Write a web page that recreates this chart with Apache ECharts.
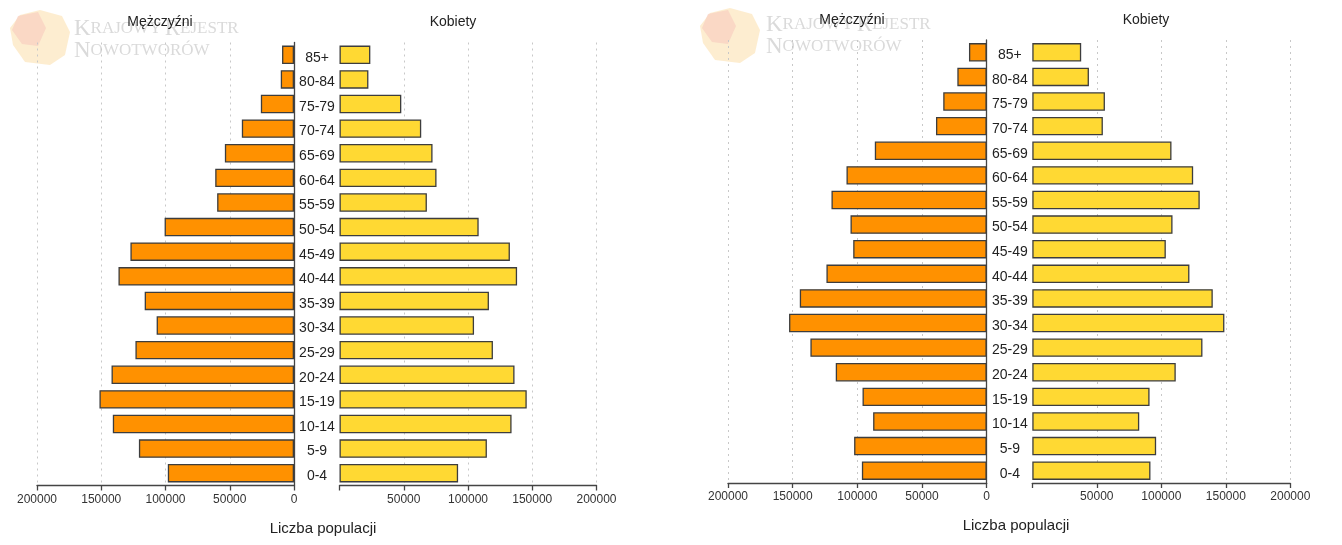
<!DOCTYPE html>
<html>
<head>
<meta charset="utf-8">
<script src="https://cdn.jsdelivr.net/npm/echarts@6/dist/echarts.min.js"></script>
<style>
html,body{margin:0;padding:0;background:#fff;}
#c{width:1342px;height:545px;}
</style>
</head>
<body>
<div id="c"></div>
<script>
// Age groups, bottom to top
const ageGroups = ['0-4','5-9','10-14','15-19','20-24','25-29','30-34','35-39','40-44','45-49','50-54','55-59','60-64','65-69','70-74','75-79','80-84','85+'];

// Chart A (left)
const menA   = [98200,120700,141000,151400,142000,123400,106900,116200,136600,127300,100700,59800,61300,53800,40600,25800,10300,9300];
const womenA = [92300,114700,133900,145700,136200,119400,104700,116300,138200,132600,108300,68000,75500,72400,63600,48100,22500,24000];

// Chart B (right)
const menB   = [96500,102500,87800,96000,116700,136300,152800,144500,123900,103200,105300,120000,108400,86500,39200,33600,22700,13700];
const womenB = [91600,96000,82900,90900,111200,131900,148900,139900,121800,103500,108700,129800,124700,107900,54700,56300,43900,37900];

const xTicks = [0,50000,100000,150000,200000];
const titleMen = 'Mężczyźni';
const titleWomen = 'Kobiety';
const xTitle = 'Liczba populacji';

const FONT = 'Liberation Sans, Arial, sans-serif';
const MEN_COLOR = '#FF9100';
const WOMEN_COLOR = '#FFD933';
const BORDER = '#3d3d3d';

const grids = [
  {left:37,    top:42.5, width:257, height:443},
  {left:339.5, top:42.5, width:257, height:443},
  {left:728,   top:40,   width:258.7, height:443},
  {left:1032.3,top:40,   width:258, height:443}
];

function xAxisFor(idx, isMen){
  return {
    gridIndex: idx, type:'value', min:xTicks[0], max:xTicks[xTicks.length-1], interval:50000,
    inverse: isMen,
    axisLine:{show:true, lineStyle:{color:'#444', width:1.3}},
    axisTick:{show:true, length:5, lineStyle:{color:'#444', width:1.3}},
    axisLabel:{color:'#333', fontSize:12, fontFamily:FONT, margin:8,
      formatter: v => (!isMen && v===0) ? '' : String(v)},
    splitLine:{show:true, showMinLine:false, lineStyle:{type:[2,4], color:'#c8c8c8', width:1}}
  };
}
function yAxisFor(idx, isMen){
  return {
    gridIndex: idx, type:'category', data: ageGroups,
    position: isMen ? 'right' : 'left',
    axisLine:{show: isMen, lineStyle:{color:'#444', width:1.3}},
    axisTick:{show:false},
    axisLabel: isMen ? {show:false} : {
      show:true, align:'center', margin:22.5,
      formatter: v => '{a|' + v + '}',
      rich:{a:{color:'#222', fontSize:14, fontFamily:FONT, padding:[6,0,0,0], align:'center'}}
    },
    splitLine:{show:false}
  };
}
function barSeries(idx, data, color){
  return {
    type:'bar', xAxisIndex:idx, yAxisIndex:idx, data:data,
    barCategoryGap:'25%', silent:true, animation:false,
    itemStyle:{color:color, borderColor:BORDER, borderWidth:1.3}
  };
}

function watermark(x, y){
  return {
    type:'text', left:x, top:y, silent:true,
    style:{
      text:'{b|K}{s|RAJOWY} {b|R}{s|EJESTR}\n{b|N}{s|OWOTWORÓW}',
      rich:{
        b:{fontSize:23, fontFamily:'Liberation Serif, serif', fill:'#dadada', lineHeight:22},
        s:{fontSize:17, fontFamily:'Liberation Serif, serif', fill:'#dadada', lineHeight:22}
      }
    }
  };
}
function logo(x, y){
  return {
    type:'group', left:x, top:y, silent:true,
    children:[
      {type:'polygon', shape:{points:[[10,5],[30,0],[52,6],[60,22],[55,45],[40,55],[15,52],[3,35],[0,18]]}, style:{fill:'#FDE8C4', opacity:0.8}},
      {type:'polygon', shape:{points:[[8,6],[28,2],[36,18],[28,36],[12,34],[2,20]]}, style:{fill:'#F8CFC0', opacity:0.7}}
    ]
  };
}

const chart = echarts.init(document.getElementById('c'), null, {renderer:'canvas'});
chart.setOption({
  animation:false,
  backgroundColor:'#fff',
  grid: grids,
  xAxis:[xAxisFor(0,true), xAxisFor(1,false), xAxisFor(2,true), xAxisFor(3,false)],
  yAxis:[yAxisFor(0,true), yAxisFor(1,false), yAxisFor(2,true), yAxisFor(3,false)],
  series:[
    barSeries(0, menA, MEN_COLOR),
    barSeries(1, womenA, WOMEN_COLOR),
    barSeries(2, menB, MEN_COLOR),
    barSeries(3, womenB, WOMEN_COLOR)
  ],
  graphic:[
    logo(10, 10), watermark(74, 17),
    logo(700, 8), watermark(766, 13),
    {type:'text', x:160, y:15, style:{text:titleMen, fontSize:14, fontFamily:FONT, fill:'#222', align:'center'}},
    {type:'text', x:453, y:15, style:{text:titleWomen, fontSize:14, fontFamily:FONT, fill:'#222', align:'center'}},
    {type:'text', x:852, y:13, style:{text:titleMen, fontSize:14, fontFamily:FONT, fill:'#222', align:'center'}},
    {type:'text', x:1146, y:13, style:{text:titleWomen, fontSize:14, fontFamily:FONT, fill:'#222', align:'center'}},
    {type:'text', x:323, y:521, style:{text:xTitle, fontSize:15, fontFamily:FONT, fill:'#222', align:'center'}},
    {type:'text', x:1016, y:518, style:{text:xTitle, fontSize:15, fontFamily:FONT, fill:'#222', align:'center'}}
  ]
});
</script>
</body>
</html>
